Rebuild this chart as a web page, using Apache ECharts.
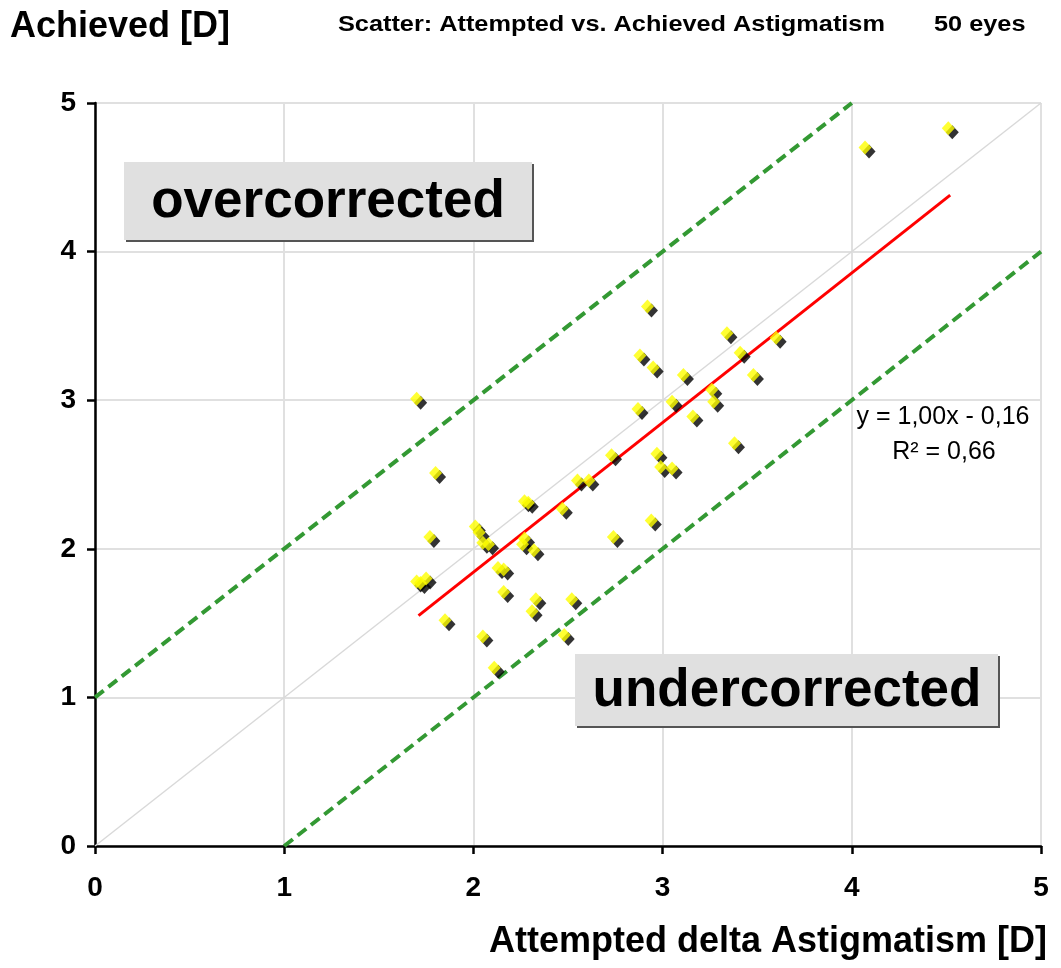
<!DOCTYPE html>
<html>
<head>
<meta charset="utf-8">
<script src="https://cdn.jsdelivr.net/npm/echarts@6/dist/echarts.min.js"></script>
<style>html,body{margin:0;padding:0;background:#fff}#c{width:1061px;height:968px}</style>
</head>
<body>
<div id="c"></div>
<script>
const attempted = [4.51,4.07,2.92,3.34,3.60,3.41,2.88,2.95,3.11,3.48,3.26,3.05,3.27,2.87,3.16,3.38,2.73,2.97,2.99,3.05,2.55,2.61,2.47,2.94,2.74,1.70,1.80,2.27,2.01,2.03,2.05,2.08,1.77,2.27,2.26,2.32,2.13,2.16,1.70,1.75,2.16,2.33,2.31,2.52,1.85,2.05,2.48,2.11,2.29,1.72];
const achieved  = [4.83,4.70,3.63,3.45,3.42,3.32,3.30,3.22,3.17,3.17,3.07,2.99,2.99,2.94,2.89,2.71,2.63,2.64,2.55,2.54,2.46,2.46,2.27,2.19,2.08,3.01,2.51,2.32,2.15,2.11,2.04,2.03,2.08,2.07,2.03,1.99,1.87,1.86,1.78,1.80,1.71,1.66,1.58,1.66,1.52,1.41,1.42,1.20,2.31,1.77];
const upperLimit = [[0,1],[4,5]];
const lowerLimit = [[1,0],[5,4]];
const identity = [[0,0],[5,5]];
const trend = [[1.71,1.55],[4.52,4.38]];
const axisTicks = [0,1,2,3,4,5];
const equationText = 'y = 1,00x - 0,16';
const r2Text = 'R² = 0,66';

const points = attempted.map((x,i)=>[x, achieved[i]]);
const chart = echarts.init(document.getElementById('c'));
const F = '"Liberation Sans", Arial, sans-serif';
function box(x,y,w,h,label,cx,cy){
  return [
    {type:'rect',z:20,shape:{x:x+2,y:y+2,width:w,height:h},style:{fill:'#555'}},
    {type:'rect',z:21,shape:{x:x,y:y,width:w,height:h},style:{fill:'#e0e0e0'}},
    {type:'text',z:22,x:cx,y:cy,style:{text:label,font:'bold 53px '+F,fill:'#000',align:'center',verticalAlign:'middle'}}
  ];
}
chart.setOption({
  animation:false,
  backgroundColor:'#fff',
  grid:{left:95,right:20,top:103,bottom:122},
  xAxis:{type:'value',min:axisTicks[0],max:axisTicks[axisTicks.length-1],interval:1,
    axisLine:{lineStyle:{color:'#000',width:2.5}},
    axisTick:{length:8,lineStyle:{color:'#000',width:2.5}},
    axisLabel:{color:'#000',fontSize:28,fontWeight:'bold',fontFamily:F,margin:28},
    splitLine:{lineStyle:{color:'#e0e0e0',width:2}}},
  yAxis:{type:'value',min:axisTicks[0],max:axisTicks[axisTicks.length-1],interval:1,
    axisLine:{show:true,lineStyle:{color:'#000',width:2.5}},
    axisTick:{show:true,length:8,lineStyle:{color:'#000',width:2.5}},
    axisLabel:{color:'#000',fontSize:28,fontWeight:'bold',fontFamily:F,margin:19},
    splitLine:{lineStyle:{color:'#e0e0e0',width:2}}},
  series:[
    {type:'line',data:identity,symbol:'none',lineStyle:{color:'#d9d9d9',width:1.5},z:1},
    {type:'line',data:upperLimit,symbol:'none',lineStyle:{color:'#339933',width:4,type:[11,6]},z:2},
    {type:'line',data:lowerLimit,symbol:'none',lineStyle:{color:'#339933',width:4,type:[11,6]},z:2},
    {type:'line',data:trend,symbol:'none',lineStyle:{color:'#ff0000',width:3},z:3},
    {type:'scatter',data:points,symbol:'diamond',symbolSize:[13,14],symbolOffset:[4,4],z:4,
      itemStyle:{color:'#000',borderWidth:0},
      emphasis:{disabled:true}},
    {type:'scatter',data:points,symbol:'diamond',symbolSize:[13,14],z:5,
      itemStyle:{color:'#ffff00',borderWidth:0},
      emphasis:{disabled:true}}
  ],
  graphic:[
    {type:'text',z:30,left:10,top:9,style:{text:'Achieved [D]',font:'bold 36px '+F,fill:'#000'}},
    {type:'text',z:30,x:338,y:25,scaleX:1.15,style:{text:'Scatter: Attempted vs. Achieved Astigmatism',font:'bold 22px '+F,fill:'#000',verticalAlign:'middle'}},
    {type:'text',z:30,x:934,y:25,scaleX:1.15,style:{text:'50 eyes',font:'bold 22px '+F,fill:'#000',verticalAlign:'middle'}},
    {type:'text',z:30,right:14,top:924,style:{text:'Attempted delta Astigmatism [D]',font:'bold 36px '+F,fill:'#000'}},
    ...box(124,162,408,78,'overcorrected',328,202),
    ...box(575,654,423,72,'undercorrected',787,691),
    {type:'text',z:30,x:943,y:417,style:{text:equationText,font:'25px '+F,fill:'#000',align:'center',verticalAlign:'middle'}},
    {type:'text',z:30,x:944,y:452,style:{text:r2Text,font:'25px '+F,fill:'#000',align:'center',verticalAlign:'middle'}}
  ]
});
</script>
</body>
</html>
